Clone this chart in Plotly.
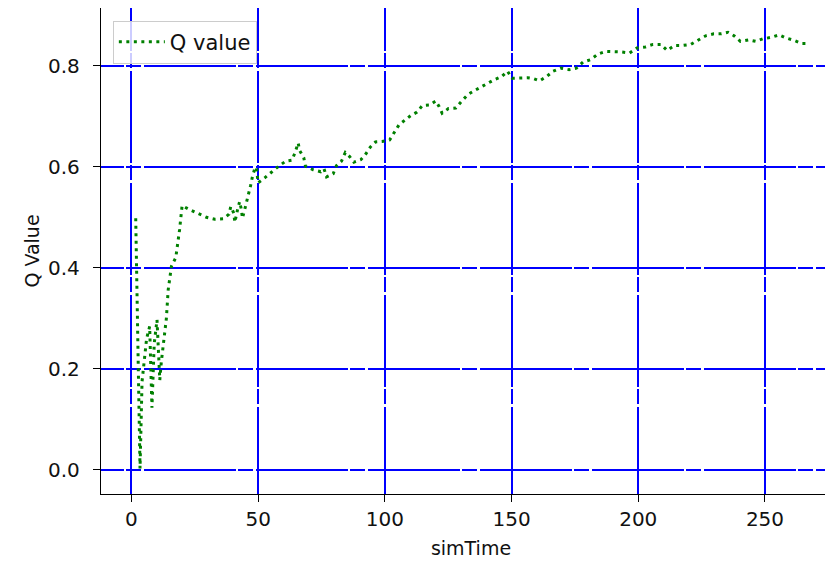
import plotly.graph_objects as go

sim_time = [1.7, 3.4, 4.2, 5.0, 6.0, 7.2, 8.1, 9.0, 10.1, 11.2, 11.8, 13.8, 14.5, 15.8, 17.5, 19.0, 20.0,
            23.0, 26.3, 29.6, 32.9, 36.2, 38.5, 39.2, 40.4, 40.8, 41.8, 42.7, 43.4, 43.8, 44.5, 45.4,
            46.2, 47.0, 47.7, 48.7, 49.3, 50.0, 52.6, 55.2, 58.1, 60.9, 63.4, 64.7, 65.8, 66.4, 68.0,
            68.7, 71.7, 74.7, 76.0, 77.0, 79.6, 80.9, 82.9, 84.4, 86.1, 87.8, 90.5, 92.3, 94.3, 96.3,
            98.9, 101.9, 103.6, 105.6, 107.9, 110.2, 112.7, 114.8, 117.6, 120.1, 121.4, 122.6, 125.1,
            128.0, 130.2, 132.8, 135.2, 137.8, 140.5, 143.1, 146.0, 148.4, 150.2, 153.2, 156.3, 158.9,
            161.1, 164.0, 166.4, 169.4, 172.7, 175.6, 178.2, 181.3, 184.1, 187.1, 190.3, 193.4, 196.6,
            199.5, 202.8, 205.8, 208.9, 211.4, 214.4, 217.7, 220.7, 223.6, 226.6, 229.8, 232.8, 235.4,
            237.8, 240.3, 243.6, 246.4, 249.2, 252.6, 255.6, 258.2, 261.5, 264.4, 267.4]
q_value = [0.498, 0.003, 0.175, 0.214, 0.26, 0.284, 0.123, 0.25, 0.297, 0.178, 0.214, 0.30, 0.356, 0.403,
           0.42, 0.475, 0.523,
           0.515, 0.508, 0.50, 0.496, 0.497, 0.506, 0.521, 0.508, 0.49, 0.513, 0.531, 0.515, 0.498,
           0.511, 0.528, 0.546, 0.562, 0.579, 0.597, 0.599, 0.568, 0.578, 0.589, 0.601, 0.611, 0.613,
           0.63, 0.647, 0.632, 0.618, 0.601, 0.594, 0.59, 0.596, 0.58, 0.586, 0.602, 0.611, 0.628,
           0.62, 0.609, 0.614, 0.624, 0.639, 0.649, 0.65, 0.653, 0.668, 0.683, 0.692, 0.701, 0.708,
           0.721, 0.722, 0.73, 0.719, 0.706, 0.715, 0.716, 0.729, 0.743, 0.75, 0.757, 0.764, 0.772,
           0.778, 0.789, 0.775, 0.775, 0.776, 0.774, 0.77, 0.779, 0.789, 0.795, 0.792, 0.795, 0.807,
           0.812, 0.823, 0.828, 0.828, 0.827, 0.825, 0.835, 0.837, 0.842, 0.842, 0.83, 0.84, 0.84,
           0.842, 0.85, 0.859, 0.863, 0.863, 0.866, 0.859, 0.848, 0.851, 0.848, 0.853, 0.856, 0.861,
           0.855, 0.85, 0.844, 0.844]

x_ticks = [0, 50, 100, 150, 200, 250]
y_ticks = [0.0, 0.2, 0.4, 0.6, 0.8]
y_tick_labels = ["0.0", "0.2", "0.4", "0.6", "0.8"]

FONT = "DejaVu Sans"

fig = go.Figure()
fig.add_trace(go.Scatter(
    x=sim_time, y=q_value, mode="lines", name="Q value",
    line=dict(color="green", width=3, dash="3px,4.5px"),
))

fig.update_layout(
    width=833, height=565,
    margin=dict(l=93, r=0, t=0, b=79, autoexpand=False),
    paper_bgcolor="white", plot_bgcolor="white",
    font=dict(family=FONT, size=20, color="#111111"),
    showlegend=True,
    legend=dict(
        x=0.016, y=0.974, xanchor="left", yanchor="top",
        bgcolor="rgba(255,255,255,0.8)", bordercolor="#cccccc", borderwidth=1,
        font=dict(family=FONT, size=21, color="#111111"),
        itemwidth=46,
    ),
    xaxis=dict(
        range=[-12.0, 280.0], tickvals=x_ticks, automargin=False,
        showline=True, linecolor="black", linewidth=1.3, mirror=True,
        ticks="outside", ticklen=7, tickcolor="black", tickwidth=1.3,
        tickfont=dict(family=FONT, size=20),
        showgrid=True, gridcolor="#0000ff", gridwidth=1.5,
        griddash="42.5px,2.5px,15px,2.5px,49.5px,0px",
        zeroline=False,
        title=dict(text="simTime", font=dict(family=FONT, size=19), standoff=11),
    ),
    yaxis=dict(
        range=[-0.0475, 0.914], tickvals=y_ticks, ticktext=y_tick_labels, automargin=False,
        showline=True, linecolor="black", linewidth=1.3,
        ticks="outside", ticklen=7, tickcolor="black", tickwidth=1.3,
        tickfont=dict(family=FONT, size=20), ticklabelstandoff=9,
        showgrid=True, gridcolor="#0000ff", gridwidth=1.5,
        griddash="22.5px,2.5px,15px,2.5px,69.5px,0px",
        zeroline=False,
        title=dict(text="Q Value", font=dict(family=FONT, size=19), standoff=3),
    ),
)

fig.write_html("out.html")
